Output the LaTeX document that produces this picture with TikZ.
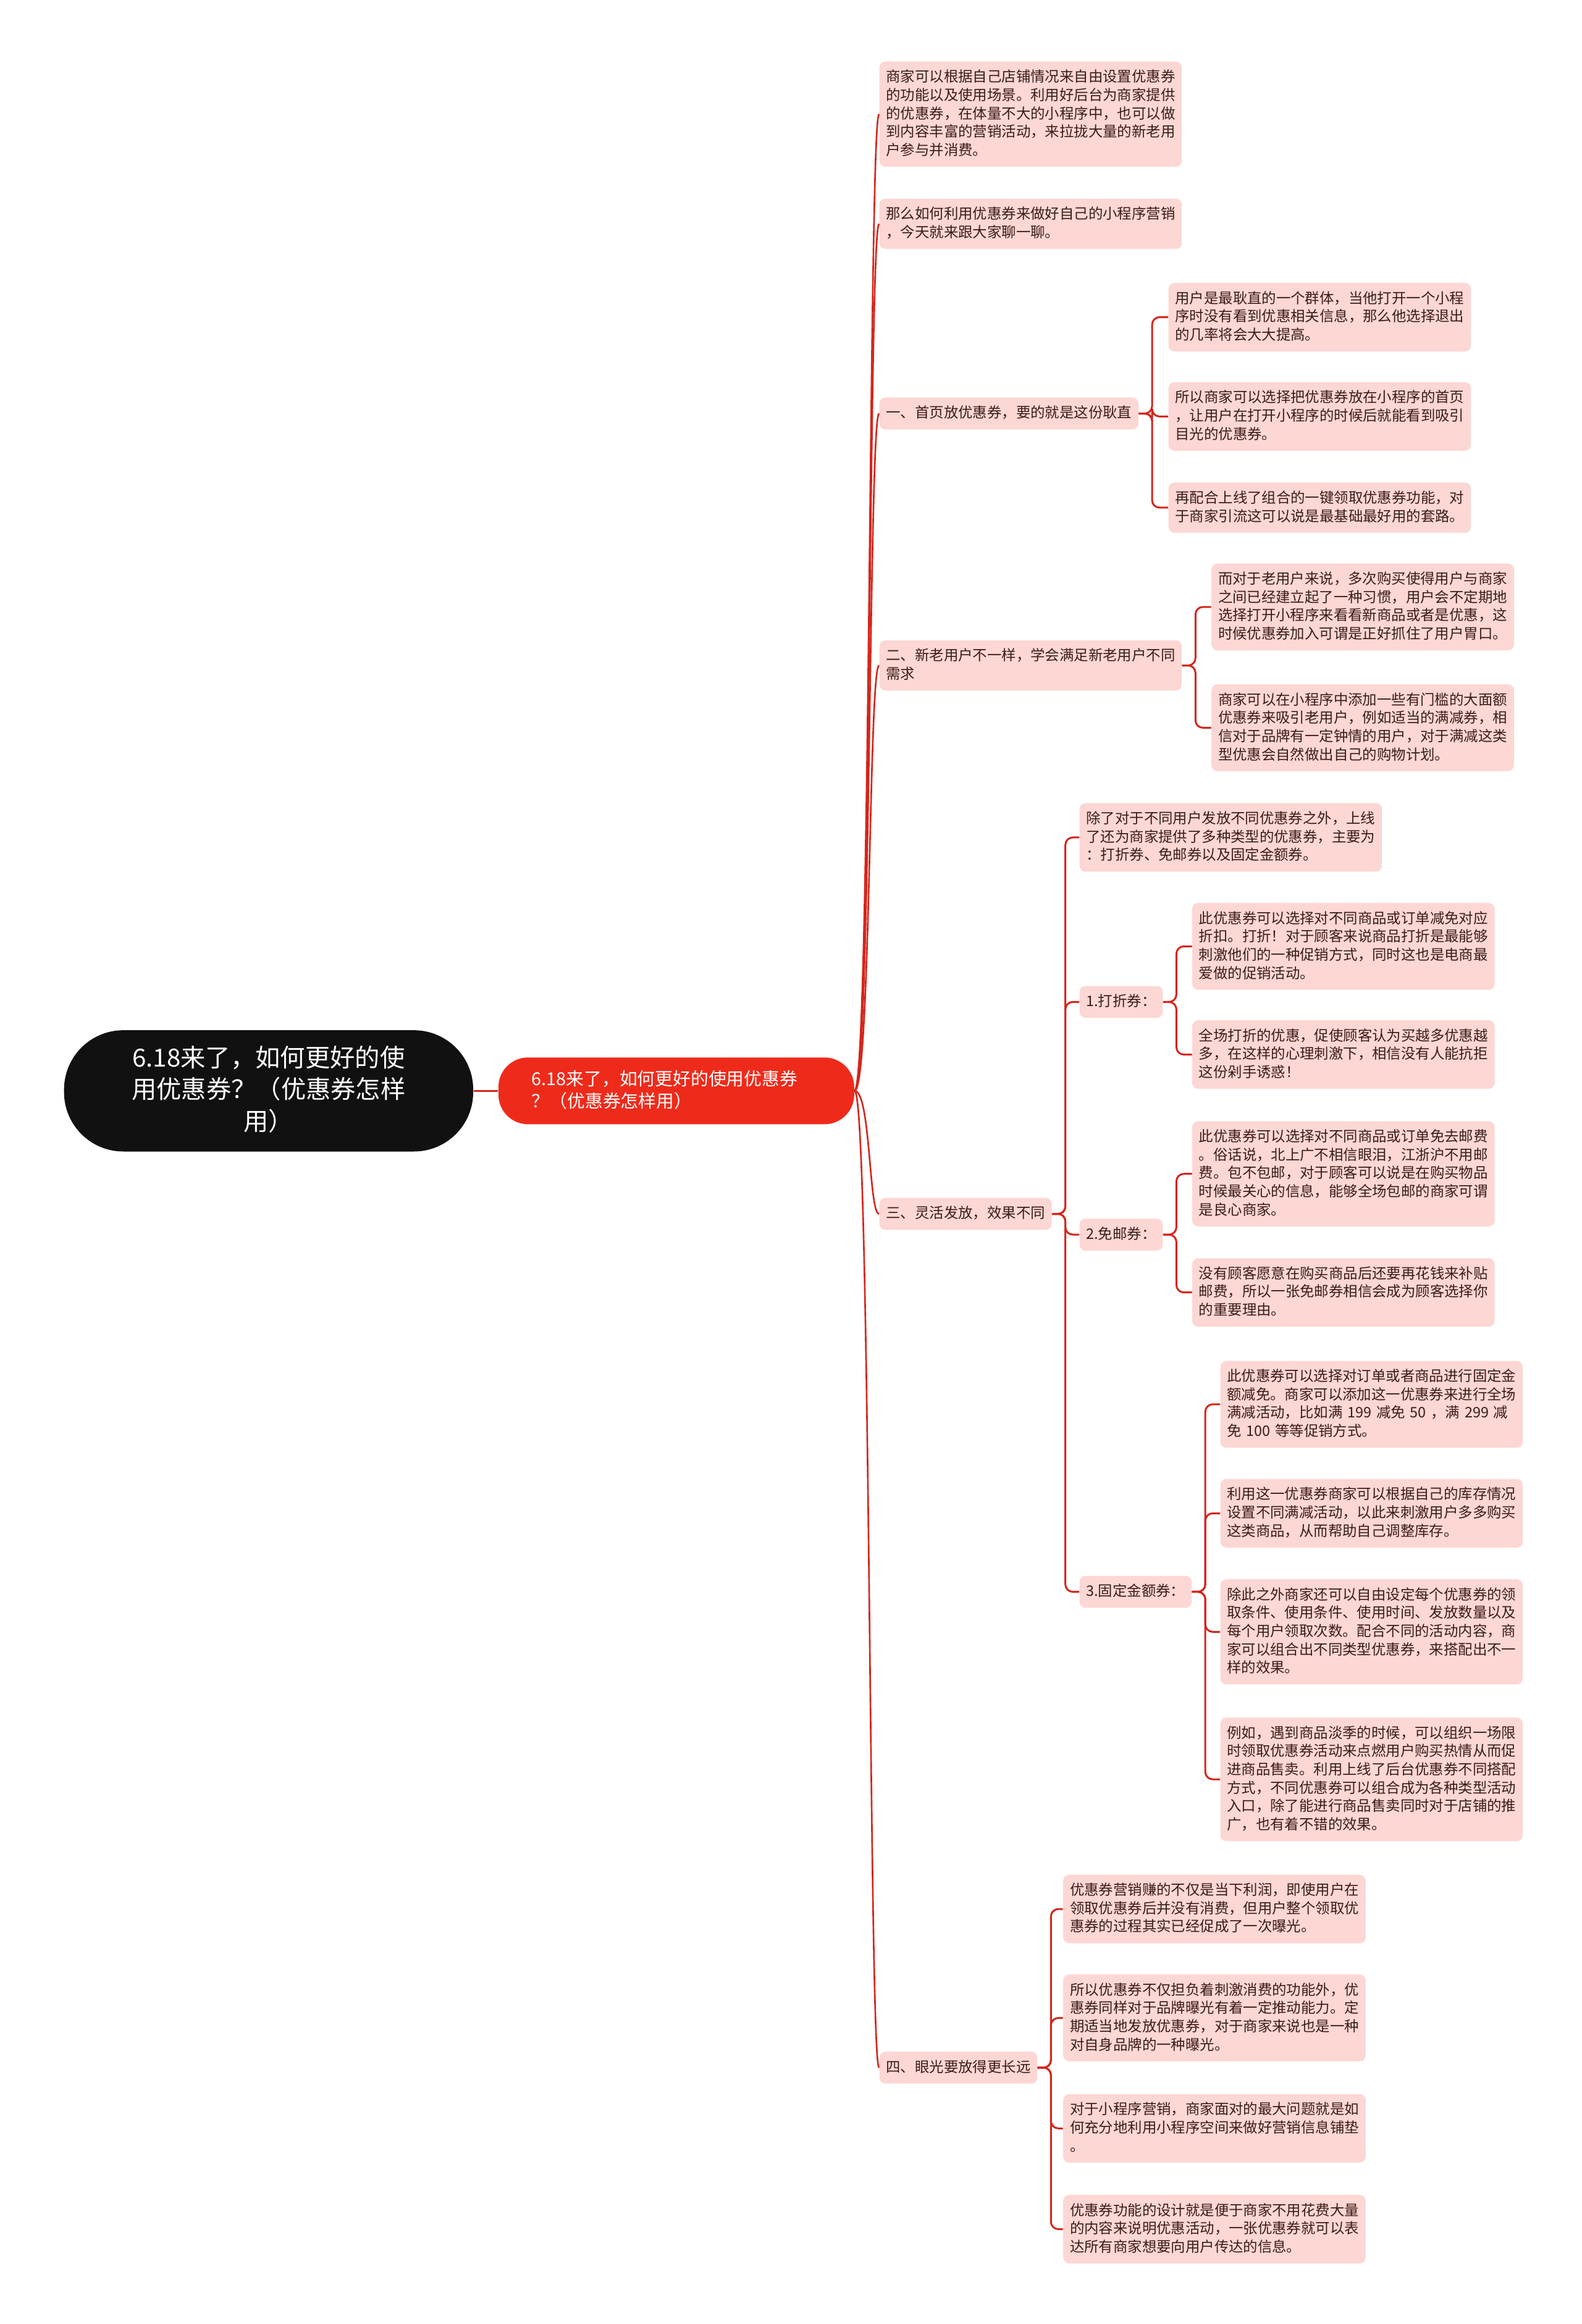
\documentclass[tikz,border=0pt]{standalone}
\usepackage{fontspec}
\newfontfamily\cjkfont{Noto Sans CJK SC}
\definecolor{leafc}{HTML}{FCD7D4}
\definecolor{txtc}{HTML}{3A1C18}
\definecolor{linec}{HTML}{D4261C}
\definecolor{mainc}{HTML}{EE2B1B}
\definecolor{rootc}{HTML}{111111}
\newcommand\bst{\rule{0pt}{0.87em}}
\newcommand\est{\rule[-0.25em]{0pt}{0.25em}}
\newcommand\leaffont{\cjkfont\fontsize{9.75}{12.35}\selectfont}
\newcommand\mainfnt{\cjkfont\fontsize{12}{15}\selectfont}
\newcommand\rootfnt{\cjkfont\fontsize{16.8}{21.5}\selectfont}
\tikzset{
  labelbox/.style={fill=leafc, rounded corners=4pt, text=txtc, font=\leaffont, align=left,
    inner xsep=4.5pt, inner ysep=5.3pt, anchor=west,
    execute at begin node=\bst, execute at end node=\est},
  leafbox/.style={labelbox, text width=195pt},
  mainbox/.style={fill=mainc, rounded corners=20pt, text=white, font=\mainfnt, align=left,
    text width=195pt, inner xsep=22.5pt, inner ysep=8.3pt, anchor=west,
    execute at begin node=\bst, execute at end node=\est},
  rootbox/.style={fill=rootc, rounded corners=40pt, text=white, font=\rootfnt, align=center,
    text width=190pt, inner xsep=43pt, inner ysep=10pt, anchor=west,
    execute at begin node=\bst, execute at end node=\est},
  conn/.style={draw=linec, line width=1.25pt, rounded corners=5pt},
  trunk/.style={draw=linec, line width=1.1pt}
}
\begin{document}
\begin{tikzpicture}[x=1pt,y=-1pt]
\fill[white] (0,0) rectangle (1067,1568);
\useasboundingbox (0,0) rectangle (1067,1568);

\node[rootbox] (root) at (43,736) {6.18来了，如何更好的使\\用优惠券？（优惠券怎样\\用）};
\node[mainbox] (main) at (336,736) {6.18来了，如何更好的使用优惠券\\？（优惠券怎样用）};

% level 1
\node[leafbox] (a1) at (593,77) {商家可以根据自己店铺情况来自由设置优惠券\\的功能以及使用场景。利用好后台为商家提供\\的优惠券，在体量不大的小程序中，也可以做\\到内容丰富的营销活动，来拉拢大量的新老用\\户参与并消费。};
\node[leafbox] (a2) at (593,151) {那么如何利用优惠券来做好自己的小程序营销\\，今天就来跟大家聊一聊。};
\node[labelbox] (b1) at (593,279) {一、首页放优惠券，要的就是这份耿直};
\node[leafbox] (b2) at (593,449) {二、新老用户不一样，学会满足新老用户不同\\需求};
\node[labelbox] (b3) at (593,819) {三、灵活发放，效果不同};
\node[labelbox] (b4) at (593,1395) {四、眼光要放得更长远};

% under 一
\node[leafbox] (b1a) at (788,214) {用户是最耿直的一个群体，当他打开一个小程\\序时没有看到优惠相关信息，那么他选择退出\\的几率将会大大提高。};
\node[leafbox] (b1b) at (788,281) {所以商家可以选择把优惠券放在小程序的首页\\，让用户在打开小程序的时候后就能看到吸引\\目光的优惠券。};
\node[leafbox] (b1c) at (788,342.5) {再配合上线了组合的一键领取优惠券功能，对\\于商家引流这可以说是最基础最好用的套路。};

% under 二
\node[leafbox] (b2a) at (817,409.5) {而对于老用户来说，多次购买使得用户与商家\\之间已经建立起了一种习惯，用户会不定期地\\选择打开小程序来看看新商品或者是优惠，这\\时候优惠券加入可谓是正好抓住了用户胃口。};
\node[leafbox] (b2b) at (817,491) {商家可以在小程序中添加一些有门槛的大面额\\优惠券来吸引老用户，例如适当的满减券，相\\信对于品牌有一定钟情的用户，对于满减这类\\型优惠会自然做出自己的购物计划。};

% under 三
\node[leafbox] (b3a) at (728,565) {除了对于不同用户发放不同优惠券之外，上线\\了还为商家提供了多种类型的优惠券，主要为\\：打折券、免邮券以及固定金额券。};
\node[labelbox] (d1) at (728,676) {1.打折券：};
\node[labelbox] (d2) at (728,833) {2.免邮券：};
\node[labelbox] (d3) at (728,1074) {3.固定金额券：};

\node[leafbox] (d1a) at (804,638.5) {此优惠券可以选择对不同商品或订单减免对应\\折扣。打折！对于顾客来说商品打折是最能够\\刺激他们的一种促销方式，同时这也是电商最\\爱做的促销活动。};
\node[leafbox] (d1b) at (804,711.5) {全场打折的优惠，促使顾客认为买越多优惠越\\多，在这样的心理刺激下，相信没有人能抗拒\\这份剁手诱惑！};

\node[leafbox] (d2a) at (804,792) {此优惠券可以选择对不同商品或订单免去邮费\\。俗话说，北上广不相信眼泪，江浙沪不用邮\\费。包不包邮，对于顾客可以说是在购买物品\\时候最关心的信息，能够全场包邮的商家可谓\\是良心商家。};
\node[leafbox] (d2b) at (804,872) {没有顾客愿意在购买商品后还要再花钱来补贴\\邮费，所以一张免邮券相信会成为顾客选择你\\的重要理由。};

\node[leafbox] (d3a) at (823,947.5) {此优惠券可以选择对订单或者商品进行固定金\\额减免。商家可以添加这一优惠券来进行全场\\满减活动，比如满 199 减免 50 ，满 299 减\\免 100 等等促销方式。};
\node[leafbox] (d3b) at (823,1021) {利用这一优惠券商家可以根据自己的库存情况\\设置不同满减活动，以此来刺激用户多多购买\\这类商品，从而帮助自己调整库存。};
\node[leafbox] (d3c) at (823,1101) {除此之外商家还可以自由设定每个优惠券的领\\取条件、使用条件、使用时间、发放数量以及\\每个用户领取次数。配合不同的活动内容，商\\家可以组合出不同类型优惠券，来搭配出不一\\样的效果。};
\node[leafbox] (d3d) at (823,1200.5) {例如，遇到商品淡季的时候，可以组织一场限\\时领取优惠券活动来点燃用户购买热情从而促\\进商品售卖。利用上线了后台优惠券不同搭配\\方式，不同优惠券可以组合成为各种类型活动\\入口，除了能进行商品售卖同时对于店铺的推\\广，也有着不错的效果。};

% under 四
\node[leafbox] (b4a) at (717,1288) {优惠券营销赚的不仅是当下利润，即使用户在\\领取优惠券后并没有消费，但用户整个领取优\\惠券的过程其实已经促成了一次曝光。};
\node[leafbox] (b4b) at (717,1361.5) {所以优惠券不仅担负着刺激消费的功能外，优\\惠券同样对于品牌曝光有着一定推动能力。定\\期适当地发放优惠券，对于商家来说也是一种\\对自身品牌的一种曝光。};
\node[leafbox] (b4c) at (717,1436) {对于小程序营销，商家面对的最大问题就是如\\何充分地利用小程序空间来做好营销信息铺垫\\。};
\node[leafbox] (b4d) at (717,1504) {优惠券功能的设计就是便于商家不用花费大量\\的内容来说明优惠活动，一张优惠券就可以表\\达所有商家想要向用户传达的信息。};

% connectors
\draw[trunk] (root.east) -- (main.west);
\foreach \c in {a1,a2,b1,b2,b3,b4}
  \draw[trunk] (main.east) .. controls ([xshift=11pt]main.east) and ([xshift=-7pt]\c.west) .. (\c.west);
\foreach \c in {b1a,b1b,b1c} \draw[conn] (b1.east) -- ++(9,0) |- (\c.west);
\foreach \c in {b2a,b2b} \draw[conn] (b2.east) -- ++(9,0) |- (\c.west);
\foreach \c in {b3a,d1,d2,d3} \draw[conn] (b3.east) -- ++(9,0) |- (\c.west);
\foreach \c in {d1a,d1b} \draw[conn] (d1.east) -- ++(9,0) |- (\c.west);
\foreach \c in {d2a,d2b} \draw[conn] (d2.east) -- ++(9,0) |- (\c.west);
\foreach \c in {d3a,d3b,d3c,d3d} \draw[conn] (d3.east) -- ++(9,0) |- (\c.west);
\foreach \c in {b4a,b4b,b4c,b4d} \draw[conn] (b4.east) -- ++(9,0) |- (\c.west);
\end{tikzpicture}
\end{document}
